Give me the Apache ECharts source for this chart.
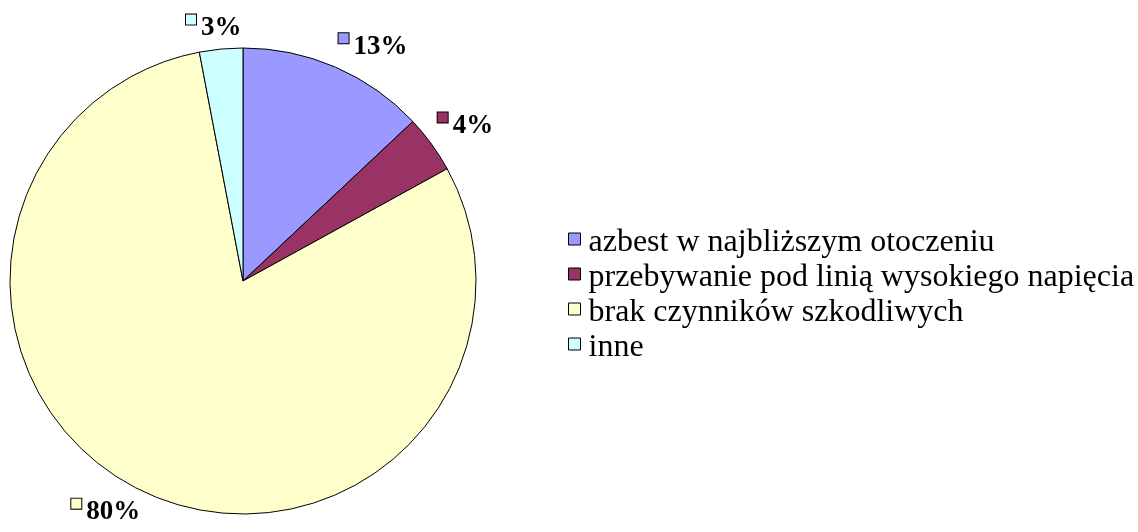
<!DOCTYPE html>
<html>
<head>
<meta charset="utf-8">
<script src="https://cdn.jsdelivr.net/npm/echarts@6/dist/echarts.min.js"></script>
<style>
  html, body { margin: 0; padding: 0; background: #fff; }
  #main { width: 1138px; height: 532px; }
</style>
</head>
<body>
<div id="main"></div>
<script>
var categories = [
    'azbest w najbliższym otoczeniu',
    'przebywanie pod linią wysokiego napięcia',
    'brak czynników szkodliwych',
    'inne'
];
var values = [13, 4, 80, 3];
var colors = ['#9999FF', '#993366', '#FFFFCC', '#CCFFFF'];

var cx = 243, cy = 281, radius = 233;
var font = '"Liberation Serif", "Times New Roman", serif';

var chart = echarts.init(document.getElementById('main'));

var total = values.reduce(function (a, b) { return a + b; }, 0);

function clamp(v) { return Math.max(-1, Math.min(1, v)); }

// Excel-like placement: the box corner (or edge middle) facing the pie
// sits on the slice's mid-angle, a few pixels outside the rim
function labelPos(i, w, h) {
    var before = 0;
    for (var k = 0; k < i; k++) before += values[k];
    var mid = (before + values[i] / 2) / total * Math.PI * 2;
    var ux = Math.sin(mid), uy = -Math.cos(mid);
    var d = radius + 7;
    var px = cx + ux * d, py = cy + uy * d;
    return {
        x: px + clamp(ux * 2.5) * w / 2,
        y: py + clamp(uy * 2.5) * h / 2
    };
}

var rich = {
    v: {
        fontFamily: font,
        fontSize: 27,
        fontWeight: 'bold',
        color: '#000',
        padding: [0, 0, 0, 5]
    }
};
colors.forEach(function (c, i) {
    rich['s' + i] = {
        width: 10,
        height: 10,
        backgroundColor: c,
        borderColor: '#000',
        borderWidth: 1,
        verticalAlign: 'top'
    };
});

var option = {
    animation: false,
    legend: {
        orient: 'vertical',
        left: 563,
        top: 222,
        // square sitting a bit above the text middle, like the Excel key
        icon: 'path://M0,0L12,0L12,12L0,12Z M0,20',
        itemWidth: 12,
        itemHeight: 20,
        itemGap: 3,
        selectedMode: false,
        itemStyle: {
            borderColor: '#000',
            borderWidth: 1
        },
        textStyle: {
            fontFamily: font,
            fontSize: 32,
            color: '#000',
            padding: [0, 0, 0, 3]
        },
        data: categories
    },
    series: [{
        type: 'pie',
        center: [cx, cy],
        radius: radius,
        startAngle: 90,
        clockwise: true,
        silent: true,
        itemStyle: {
            borderColor: '#000',
            borderWidth: 1
        },
        label: {
            show: true,
            position: 'outside',
            formatter: function (p) {
                return '{s' + p.dataIndex + '|}{v|' + p.value + '%}';
            },
            rich: rich
        },
        labelLine: { show: false },
        labelLayout: function (p) {
            var r = p.labelRect;
            var pos = labelPos(p.dataIndex, r.width, r.height);
            return { x: pos.x, y: pos.y, align: 'center', verticalAlign: 'middle' };
        },
        data: categories.map(function (name, i) {
            return { name: name, value: values[i], itemStyle: { color: colors[i] } };
        })
    }]
};

chart.setOption(option);

window.onresize = chart.resize;
</script>
</body>
</html>
